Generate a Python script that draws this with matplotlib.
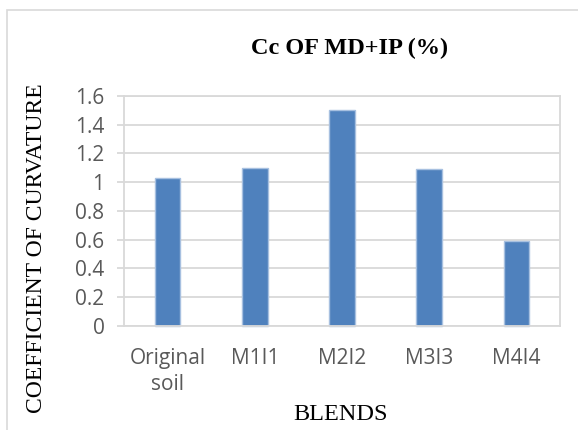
import matplotlib
matplotlib.use("Agg")
import matplotlib.pyplot as plt
from matplotlib.patches import Rectangle

# === Data ====================================================================
blends = ["Original\nsoil", "M1I1", "M2I2", "M3I3", "M4I4"]
cc_values = [1.03, 1.10, 1.50, 1.09, 0.59]
y_ticks = [0, 0.2, 0.4, 0.6, 0.8, 1.0, 1.2, 1.4, 1.6]
y_tick_labels = ["0", "0.2", "0.4", "0.6", "0.8", "1", "1.2", "1.4", "1.6"]

BAR = "#4F81BD"
BAR_EDGE = "#A7C0E0"
GRID = "#D9D9D9"
TICK_TEXT = "#595959"
SERIF = "Liberation Serif"
SANS = "Open Sans"

fig = plt.figure(figsize=(5.78, 4.30), dpi=100)
ax = fig.add_axes([0.2145, 0.2426, 0.9689 - 0.2145, 0.7767 - 0.2426])

# Chart-area frame (runs off the right/bottom edges)
fig.patches.append(Rectangle((7 / 578, -0.2), 1.2, 0.2 + 1 - 10 / 430,
                             transform=fig.transFigure, fill=False,
                             edgecolor=GRID, linewidth=1.2))

x = range(len(blends))
ax.bar(x, cc_values, width=0.295, color=BAR, edgecolor=BAR_EDGE,
       linewidth=1.0, zorder=2, clip_on=False)

ax.set_xlim(-0.5, len(blends) - 0.5)
ax.set_ylim(0, 1.6)
ax.set_yticks(y_ticks)
ax.set_yticklabels(y_tick_labels)
ax.set_xticks(list(x))
ax.set_xticklabels(blends)

ax.yaxis.grid(True, color=GRID, linewidth=1.3, zorder=0)
ax.set_axisbelow(True)
for side in ["left", "right", "top", "bottom"]:
    ax.spines[side].set_color(GRID)
    ax.spines[side].set_linewidth(1.3)
ax.spines["bottom"].set_zorder(3)

ax.tick_params(axis="y", length=5, width=1.3, color=GRID, pad=9,
               labelsize=15, labelcolor=TICK_TEXT)
ax.tick_params(axis="x", length=0, pad=16, labelsize=15,
               labelcolor=TICK_TEXT)
for lbl in ax.get_xticklabels() + ax.get_yticklabels():
    lbl.set_fontfamily(SANS)
for lbl in ax.get_xticklabels():
    lbl.set_linespacing(1.3)

fig.text(350 / 578, 1 - 48 / 430, "Cc OF MD+IP (%)", ha="center", va="center",
         fontsize=17.5, fontweight="bold", family=SERIF)
fig.text(341 / 578, 1 - 414 / 430, "BLENDS", ha="center", va="center",
         fontsize=17.5, family=SERIF)
fig.text(37 / 578, 1 - 248 / 430, "COEFFICIENT OF CURVATURE", ha="center",
         va="center", rotation=90, fontsize=17, family=SERIF)

fig.savefig("out.png", dpi=100)
